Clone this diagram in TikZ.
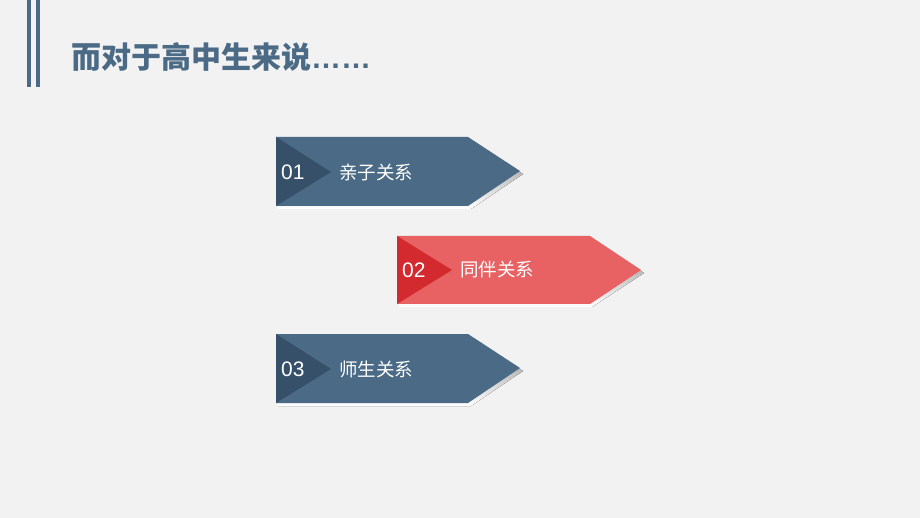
\documentclass[tikz,border=0pt]{standalone}
\usepackage{fontspec}
\setmainfont{Liberation Sans}
\newfontfamily\cjk{Noto Sans CJK SC}
\usepackage{tikz}
\usetikzlibrary{backgrounds}
\definecolor{pagebg}{HTML}{F2F2F2}
\definecolor{slateblue}{HTML}{4A6A85}
\definecolor{slatedark}{HTML}{36506A}
\definecolor{coral}{HTML}{E86163}
\definecolor{coraldark}{HTML}{D22A2E}
\definecolor{shade}{HTML}{CFCFCF}

\begin{document}
\begin{tikzpicture}[x=1pt,y=-1pt,
	numtext/.style={text=white,font=\fontsize{21}{21}\selectfont,inner sep=0pt,anchor=west},
	itemtext/.style={text=white,font=\cjk\fontsize{18.5}{18.5}\selectfont,inner sep=0pt,anchor=west}]
	
	\fill[pagebg] (0,0) rectangle (920,518);
	\useasboundingbox (0,0) rectangle (920,518);
	
	% title bars
	\fill[slateblue] (27,0) rectangle (31,87);
	\fill[slateblue] (36,0) rectangle (40,87);
	\node[anchor=west,inner sep=0pt,text=slateblue,font=\bfseries\fontsize{30}{30}\selectfont] (title) at (71,57) {{\cjk 而对于高中生来说}……};
	
	% item 1
	\fill[shade] (278,140) -- (470,140) -- (523,174) -- (471,209) -- (278,209) -- cycle;
	\fill[slateblue] (276,137) -- (468,137) -- (520,171) -- (468,206) -- (276,206) -- cycle;
	\fill[slatedark] (276,137) -- (331,172) -- (276,206) -- cycle;
	\node[numtext] (num1) at (281,172) {01};
	\node[itemtext] (item1) at (339,172) {亲子关系};
	
	% item 2
	\fill[shade] (399,239) -- (592,239) -- (644,273) -- (592,307) -- (399,307) -- cycle;
	\fill[coral] (397,236) -- (590,236) -- (641,270) -- (590,304) -- (397,304) -- cycle;
	\fill[coraldark] (397,236) -- (452,270) -- (397,304) -- cycle;
	\node[numtext] (num2) at (402,270) {02};
	\node[itemtext] (item2) at (460,270) {同伴关系};
	
	% item 3
	\fill[shade] (278,337) -- (470,337) -- (523,371) -- (471,406) -- (278,406) -- cycle;
	\fill[slateblue] (276,334) -- (468,334) -- (520,368) -- (468,403) -- (276,403) -- cycle;
	\fill[slatedark] (276,334) -- (331,369) -- (276,403) -- cycle;
	\node[numtext] (num3) at (281,369) {03};
	\node[itemtext] (item3) at (339,369) {师生关系};
	
\end{tikzpicture}
\end{document}
